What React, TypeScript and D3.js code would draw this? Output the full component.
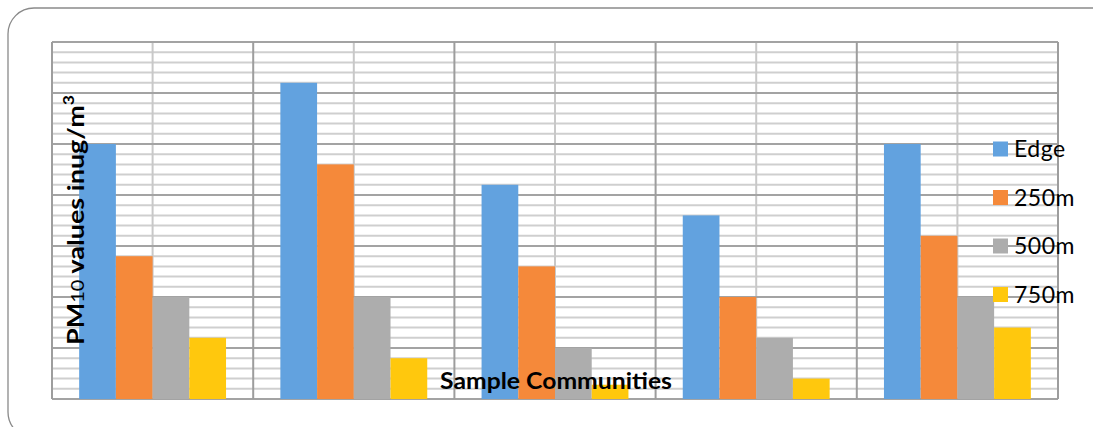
import React from "react";
import * as d3 from "d3";

const categories = ["Community A", "Community B", "Community C", "Community D", "Community E"];
const seriesNames = ["Edge", "250m", "500m", "750m"];
const edgeValues = [250, 310, 210, 180, 250];
const m250Values = [140, 230, 130, 100, 160];
const m500Values = [100, 100, 50, 60, 100];
const m750Values = [60, 40, 14, 20, 70];
const seriesColors = ["#62A2DF", "#F5893A", "#ADADAD", "#FFC80D"];
const yMax = 350;
const minorStep = 10;
const majorStep = 50;

const W = 1093;
const H = 427;
const plot = { left: 52, right: 1058, top: 42, bottom: 399 };
const FONT = "Lato, 'Open Sans', sans-serif";

export default function App() {
  const series = [edgeValues, m250Values, m500Values, m750Values];
  const x0 = d3.scaleBand<string>().domain(categories).range([plot.left, plot.right]).padding(0);
  const bw = x0.bandwidth();
  const gap = bw * 0.135;
  const x1 = d3.scaleBand<string>().domain(seriesNames).range([gap, bw - gap]).padding(0);
  const y = d3.scaleLinear().domain([0, yMax]).range([plot.bottom, plot.top]);
  const minorTicks = d3.range(0, yMax + 0.001, minorStep);
  const majorTicks = d3.range(0, yMax + 0.001, majorStep);

  return (
    <svg width={W} height={H} style={{ position: "absolute", left: 0, top: 0, background: "#fff" }}>
      <rect x={8} y={8} width={1110} height={430} rx={26} ry={26} fill="#fff" stroke="#8a8a8a" strokeWidth={1.3} />
      {minorTicks.filter((t) => t % majorStep !== 0).map((t) => (
        <line key={"mh" + t} x1={plot.left} x2={plot.right} y1={y(t)} y2={y(t)} stroke="#cfcfcf" strokeWidth={2} />
      ))}
      {categories.map((c) => (
        <line key={"mv" + c} x1={(x0(c) as number) + bw / 2} x2={(x0(c) as number) + bw / 2} y1={plot.top} y2={plot.bottom} stroke="#c8c8c8" strokeWidth={2} />
      ))}
      {majorTicks.map((t) => (
        <line key={"Mh" + t} x1={plot.left} x2={plot.right} y1={y(t)} y2={y(t)} stroke="#a3a3a3" strokeWidth={2} />
      ))}
      {[...categories.map((c) => x0(c) as number), plot.right].map((xv, i) => (
        <line key={"Mv" + i} x1={xv} x2={xv} y1={plot.top} y2={plot.bottom} stroke="#9d9d9d" strokeWidth={2} />
      ))}
      {categories.map((c, ci) => (
        <g key={c} transform={`translate(${x0(c)},0)`}>
          {seriesNames.map((s, si) => (
            <rect key={s} x={x1(s)} y={y(series[si][ci])} width={x1.bandwidth()} height={y(0) - y(series[si][ci])} fill={seriesColors[si]} />
          ))}
        </g>
      ))}
      <text x={556} y={389} textAnchor="middle" fontFamily={FONT} fontWeight="bold" fontSize={23} textLength={232} lengthAdjust="spacingAndGlyphs" fill="#000">
        Sample Communities
      </text>
      <text transform={`translate(84,220) rotate(-90)`} textAnchor="middle" fontFamily={FONT} fontSize={23} textLength={250} lengthAdjust="spacingAndGlyphs" fill="#000">
        <tspan fontWeight="bold">PM</tspan>
        <tspan fontSize={17} fontWeight="normal">10</tspan>
        <tspan fontWeight="bold"> values inug/m</tspan>
        <tspan fontWeight="bold" fontSize={15} dy={-10}>3</tspan>
      </text>
      {seriesNames.map((s, i) => (
        <g key={s} transform={`translate(993,${149 + i * 48.5})`}>
          <rect x={0} y={-7.5} width={15} height={15} fill={seriesColors[i]} />
          <text x={21} y={8} fontFamily={FONT} fontSize={23} letterSpacing={0.5} fill="#000">{s}</text>
        </g>
      ))}
    </svg>
  );
}
